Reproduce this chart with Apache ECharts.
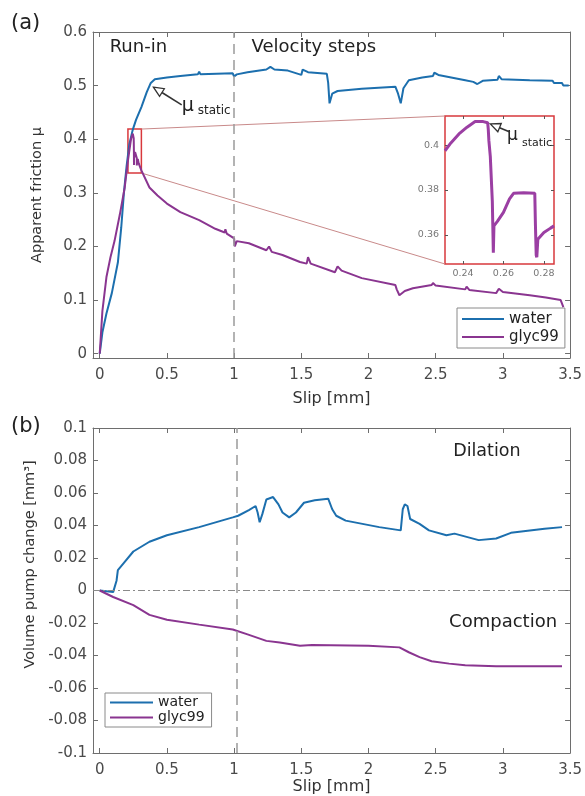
<!DOCTYPE html>
<html><head><meta charset="utf-8">
<script src="https://cdn.jsdelivr.net/npm/echarts@6/dist/echarts.min.js"></script>
<style>html,body{margin:0;padding:0;background:#fff}#c{width:585px;height:796px}</style>
</head><body><div id="c"></div>
<script>
// ---------- data ----------
const seriesNames = ['water', 'glyc99'];
const slipTicks = [0, 0.5, 1, 1.5, 2, 2.5, 3, 3.5];
const frictionTicks = [0, 0.1, 0.2, 0.3, 0.4, 0.5, 0.6];
const volumeTicks = [-0.1, -0.08, -0.06, -0.04, -0.02, 0, 0.02, 0.04, 0.06, 0.08, 0.1];
const zoomSlipTicks = [0.24, 0.26, 0.28];
const zoomFrictionTicks = [0.36, 0.38, 0.4];

const waterFriction = [[0,0],[0.02,0.04],[0.05,0.075],[0.09,0.113],[0.135,0.17],[0.16,0.235],[0.18,0.3],[0.2,0.35],[0.22,0.39],[0.245,0.417],[0.27,0.436],[0.31,0.46],[0.35,0.488],[0.38,0.505],[0.41,0.512],[0.5,0.515],[0.6,0.518],[0.73,0.521],[0.74,0.526],[0.75,0.521],[0.99,0.523],[1.0,0.517],[1.02,0.521],[1.1,0.525],[1.24,0.53],[1.27,0.535],[1.3,0.53],[1.4,0.528],[1.5,0.52],[1.51,0.53],[1.55,0.525],[1.69,0.522],[1.7,0.505],[1.71,0.467],[1.73,0.485],[1.77,0.49],[1.95,0.494],[2.2,0.498],[2.22,0.485],[2.24,0.467],[2.26,0.495],[2.3,0.51],[2.4,0.515],[2.48,0.518],[2.49,0.524],[2.52,0.52],[2.72,0.51],[2.78,0.507],[2.81,0.503],[2.85,0.509],[2.96,0.511],[2.97,0.518],[2.99,0.512],[3.2,0.51],[3.37,0.509],[3.38,0.505],[3.44,0.505],[3.45,0.5],[3.49,0.5]];
const glycFrictionRise = [[0,0],[0.02,0.08],[0.05,0.143],[0.08,0.18],[0.11,0.21],[0.15,0.26],[0.186,0.31],[0.21,0.36]];
const glycFrictionZoom = [[0.2311,0.3975],[0.234,0.401],[0.238,0.405],[0.242,0.408],[0.246,0.4105],[0.25,0.4105],[0.2522,0.41],[0.2525,0.407],[0.2528,0.402],[0.2535,0.395],[0.2545,0.375],[0.255,0.352],[0.2553,0.364],[0.257,0.366],[0.26,0.37],[0.263,0.376],[0.265,0.3785],[0.27,0.3788],[0.2755,0.3785],[0.2758,0.365],[0.2762,0.351],[0.2765,0.35],[0.277,0.358],[0.28,0.361],[0.2833,0.363],[0.285,0.364]];
const glycFrictionDecay = [[0.29,0.355],[0.31,0.342],[0.37,0.31],[0.43,0.295],[0.5,0.28],[0.6,0.264],[0.74,0.249],[0.86,0.233],[0.93,0.226],[0.935,0.232],[0.945,0.224],[1.0,0.215],[1.005,0.2],[1.02,0.21],[1.11,0.206],[1.24,0.193],[1.26,0.2],[1.28,0.19],[1.36,0.184],[1.49,0.171],[1.54,0.168],[1.55,0.18],[1.57,0.168],[1.75,0.152],[1.77,0.163],[1.8,0.155],[1.95,0.141],[2.2,0.128],[2.21,0.12],[2.23,0.109],[2.27,0.117],[2.33,0.122],[2.47,0.128],[2.48,0.132],[2.5,0.127],[2.72,0.12],[2.73,0.125],[2.75,0.119],[2.95,0.113],[2.97,0.121],[3.0,0.115],[3.2,0.109],[3.32,0.105],[3.43,0.1],[3.44,0.1],[3.45,0.087]];
const waterVolume = [[0,0],[0.05,-0.0005],[0.1,-0.001],[0.11,0.0],[0.125,0.006],[0.135,0.0125],[0.18,0.017],[0.25,0.024],[0.37,0.03],[0.5,0.034],[0.74,0.039],[0.99,0.045],[1.03,0.046],[1.11,0.0495],[1.16,0.052],[1.175,0.048],[1.19,0.042],[1.21,0.047],[1.24,0.056],[1.29,0.0575],[1.33,0.053],[1.36,0.048],[1.41,0.045],[1.46,0.048],[1.52,0.054],[1.6,0.0555],[1.7,0.0565],[1.73,0.05],[1.76,0.046],[1.83,0.043],[2.08,0.039],[2.24,0.037],[2.255,0.05],[2.27,0.053],[2.29,0.052],[2.31,0.044],[2.38,0.041],[2.45,0.037],[2.58,0.034],[2.64,0.035],[2.82,0.031],[2.95,0.032],[3.06,0.0355],[3.31,0.038],[3.44,0.039]];
const glycVolume = [[0,0],[0.1,-0.004],[0.25,-0.009],[0.37,-0.015],[0.5,-0.018],[0.74,-0.021],[0.99,-0.024],[1.1,-0.027],[1.24,-0.031],[1.34,-0.032],[1.49,-0.034],[1.58,-0.0335],[2.0,-0.034],[2.23,-0.035],[2.3,-0.038],[2.38,-0.041],[2.47,-0.0435],[2.6,-0.045],[2.72,-0.046],[2.95,-0.0466],[3.44,-0.0466]];

// ---------- style / layout ----------
const FONT = '"DejaVu Sans", "Liberation Sans", sans-serif';
const AX = '#6e6e6e';
const BLUE = '#1c6fae';
const PURPLE = '#8a3590';
const RED = '#d8383c';
const zoomBox = {x0: 0.21, x1: 0.31, y0: 0.337, y1: 0.419};
const zoomRange = {xmin: 0.2311, xmax: 0.285, ymin: 0.347, ymax: 0.413};

function axis(gridIndex, position, min, max, ticks, showLabels, extra) {
  return Object.assign({
    type: 'value', gridIndex, position, min, max,
    axisLine: {show: true, onZero: false, lineStyle: {color: AX, width: 1}},
    axisTick: {show: true, inside: true, length: 5, customValues: ticks, lineStyle: {color: AX}},
    axisLabel: {show: showLabels, customValues: ticks, fontFamily: FONT, fontSize: 15, color: '#4a4a4a', margin: 10},
    splitLine: {show: false}
  }, extra || {});
}
const nameStyle = {fontFamily: FONT, fontSize: 16, color: '#333'};
const yNameStyle = {fontFamily: FONT, fontSize: 14.5, color: '#333'};

const chart = echarts.init(document.getElementById('c'), null, {renderer: 'canvas'});
const fullGlyc = glycFrictionRise.concat(glycFrictionZoom, glycFrictionDecay);
const zoomAxisTick = t => ({show: true, inside: true, length: 3, customValues: t, lineStyle: {color: '#555'}});

const option = {
  animation: false,
  backgroundColor: '#fff',
  grid: [
    {left: 93, top: 32, width: 479, height: 326},
    {left: 93, top: 428, width: 479, height: 329},
    {left: 445, top: 116, width: 109, height: 148, show: true, backgroundColor: '#fff', borderColor: RED, borderWidth: 1.5}
  ],
  xAxis: [
    axis(0, 'bottom', -0.05, 3.5, slipTicks, true, {name: 'Slip [mm]', nameLocation: 'middle', nameGap: 33, nameTextStyle: nameStyle}),
    axis(0, 'top', -0.05, 3.5, slipTicks, false),
    axis(1, 'bottom', -0.05, 3.5, slipTicks, true, {name: 'Slip [mm]', nameLocation: 'middle', nameGap: 26, nameTextStyle: nameStyle}),
    axis(1, 'top', -0.05, 3.5, slipTicks, false),
    axis(2, 'bottom', zoomRange.xmin, zoomRange.xmax, zoomSlipTicks, true, {axisLine: {show: false}, axisTick: zoomAxisTick(zoomSlipTicks), axisLabel: {customValues: zoomSlipTicks, fontFamily: FONT, fontSize: 9.5, color: '#777', margin: 5}}),
    axis(2, 'top', zoomRange.xmin, zoomRange.xmax, zoomSlipTicks, false, {axisLine: {show: false}, axisTick: zoomAxisTick(zoomSlipTicks)})
  ],
  yAxis: [
    axis(0, 'left', -0.008, 0.6, frictionTicks, true, {name: 'Apparent friction μ', nameLocation: 'middle', nameGap: 48, nameTextStyle: yNameStyle, axisLabel: {customValues: frictionTicks, fontFamily: FONT, fontSize: 15, color: '#4a4a4a', margin: 6}}),
    axis(0, 'right', -0.008, 0.6, frictionTicks, false),
    axis(1, 'left', -0.1, 0.1, volumeTicks, true, {name: 'Volume pump change [mm³]', nameLocation: 'middle', nameGap: 52, nameTextStyle: Object.assign({padding: [0, 0, 0, 52]}, yNameStyle), axisLabel: {customValues: volumeTicks, fontFamily: FONT, fontSize: 15, color: '#4a4a4a', margin: 6}}),
    axis(1, 'right', -0.1, 0.1, volumeTicks, false),
    axis(2, 'left', zoomRange.ymin, zoomRange.ymax, zoomFrictionTicks, true, {axisLine: {show: false}, axisTick: zoomAxisTick(zoomFrictionTicks), axisLabel: {customValues: zoomFrictionTicks, fontFamily: FONT, fontSize: 9.5, color: '#777', margin: 6}}),
    axis(2, 'right', zoomRange.ymin, zoomRange.ymax, zoomFrictionTicks, false, {axisLine: {show: false}, axisTick: zoomAxisTick(zoomFrictionTicks)})
  ],
  legend: [
    {data: seriesNames, orient: 'vertical', left: 457, top: 308, icon: 'rect', itemWidth: 42, itemHeight: 2, itemGap: 2,
     padding: [3, 6, 3, 5], borderColor: '#8a8a8a', borderWidth: 1, backgroundColor: '#fff', selectedMode: false,
     textStyle: {fontFamily: FONT, fontSize: 15, color: '#222', lineHeight: 16}},
    {data: seriesNames, orient: 'vertical', left: 105, top: 693, icon: 'rect', itemWidth: 43, itemHeight: 2, itemGap: 0,
     padding: [2, 7, 2, 5], borderColor: '#8a8a8a', borderWidth: 1, backgroundColor: '#fff', selectedMode: false,
     textStyle: {fontFamily: FONT, fontSize: 14, color: '#222', lineHeight: 15}}
  ],
  series: [
    {name: seriesNames[0], type: 'line', xAxisIndex: 0, yAxisIndex: 0, data: waterFriction, showSymbol: false, symbol: 'none',
     lineStyle: {color: BLUE, width: 2}, itemStyle: {color: BLUE}, z: 3,
     markLine: {silent: true, symbol: 'none', label: {show: false}, lineStyle: {color: '#9a9a9a', width: 1.5, type: [10, 6]}, data: [{xAxis: 1}]}},
    {name: seriesNames[1], type: 'line', xAxisIndex: 0, yAxisIndex: 0, data: fullGlyc, showSymbol: false, symbol: 'none',
     lineStyle: {color: PURPLE, width: 2}, itemStyle: {color: PURPLE}, z: 4,
     markArea: {silent: true, itemStyle: {color: 'rgba(0,0,0,0)', borderColor: RED, borderWidth: 1.5},
       data: [[{xAxis: zoomBox.x0, yAxis: zoomBox.y0}, {xAxis: zoomBox.x1, yAxis: zoomBox.y1}]]}},
    {name: seriesNames[0], type: 'line', xAxisIndex: 2, yAxisIndex: 2, data: waterVolume, showSymbol: false, symbol: 'none',
     lineStyle: {color: BLUE, width: 2}, itemStyle: {color: BLUE}, z: 3,
     markLine: {silent: true, symbol: 'none', label: {show: false},
       data: [
         {xAxis: 1.02, lineStyle: {color: '#9a9a9a', width: 1.5, type: [10, 6]}},
         {yAxis: 0, lineStyle: {color: '#8a8a8a', width: 1, type: [7, 3, 2, 3]}}
       ]}},
    {name: seriesNames[1], type: 'line', xAxisIndex: 2, yAxisIndex: 2, data: glycVolume, showSymbol: false, symbol: 'none',
     lineStyle: {color: PURPLE, width: 2}, itemStyle: {color: PURPLE}, z: 4},
    {name: 'glyc99 (zoom)', type: 'line', xAxisIndex: 4, yAxisIndex: 4, data: glycFrictionZoom, showSymbol: false, symbol: 'none',
     lineStyle: {color: '#9b3fa3', width: 3}, itemStyle: {color: '#9b3fa3'}, z: 6, clip: true}
  ]
};
chart.setOption(option);

// ---------- annotations anchored through the axes ----------
function px(grid, x, y) { return chart.convertToPixel({gridIndex: grid}, [x, y]); }
function text(p, str, size, extra) {
  return Object.assign({type: 'text', x: p[0], y: p[1], z: 20,
    style: {text: str, fontFamily: FONT, fontSize: size, fill: '#222', align: 'left', verticalAlign: 'middle'}}, extra || {});
}
function arrow(tip, tail) {
  const dx = tip[0] - tail[0], dy = tip[1] - tail[1];
  const L = Math.hypot(dx, dy), ux = dx / L, uy = dy / L, nx = -uy, ny = ux;
  const hl = 10, hw = 4.5;
  const bx = tip[0] - ux * hl, by = tip[1] - uy * hl;
  return [
    {type: 'line', z: 20, shape: {x1: tail[0], y1: tail[1], x2: bx, y2: by}, style: {stroke: '#333', lineWidth: 1.6}},
    {type: 'polygon', z: 20, shape: {points: [[tip[0], tip[1]], [bx + nx * hw, by + ny * hw], [bx - nx * hw, by - ny * hw]]},
     style: {fill: '#fff', stroke: '#333', lineWidth: 1.3}}
  ];
}
const cTop = px(0, zoomBox.x1, zoomBox.y1), cBot = px(0, zoomBox.x1, zoomBox.y0);
const iTop = px(2, zoomRange.xmin, zoomRange.ymax), iBot = px(2, zoomRange.xmin, zoomRange.ymin);
const mainTip = px(0, 0.40, 0.497), mainTail = px(0, 0.61, 0.464);
const insTip = px(2, 0.2535, 0.4095), insTail = px(2, 0.2632, 0.4059);

const graphics = [
  {type: 'line', z: 1, shape: {x1: cTop[0], y1: cTop[1], x2: iTop[0], y2: iTop[1]}, style: {stroke: '#c98a8a', lineWidth: 1}},
  {type: 'line', z: 1, shape: {x1: cBot[0], y1: cBot[1], x2: iBot[0], y2: iBot[1]}, style: {stroke: '#c98a8a', lineWidth: 1}},
  text([11, 24], '(a)', 21),
  text([11, 427], '(b)', 21),
  text(px(0, 0.074, 0.572), 'Run-in', 18),
  text(px(0, 1.13, 0.572), 'Velocity steps', 18),
  text(px(1, 2.63, 0.0854), 'Dilation', 17.5),
  text(px(1, 2.6, -0.0198), 'Compaction', 18),
  text([mainTail[0], mainTail[1] + 1], 'μ', 19),
  text([mainTail[0] + 16, mainTail[1] + 6], 'static', 12),
  text([insTail[0] - 3, insTail[1] + 4], 'μ', 17),
  text([insTail[0] + 12, insTail[1] + 11], 'static', 11)
].concat(arrow(mainTip, mainTail), arrow(insTip, insTail));
chart.setOption({graphic: graphics});
</script></body></html>
